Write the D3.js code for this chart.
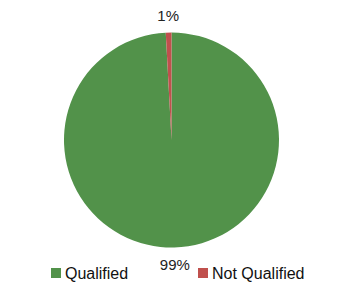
<!DOCTYPE html>
<html><head><meta charset="utf-8">
<script src="https://cdn.jsdelivr.net/npm/d3@7"></script>
<style>body{margin:0;background:#fff}svg{display:block}</style>
</head><body>
<svg id="c" width="341" height="289"></svg>
<script>
const categories = ["Qualified", "Not Qualified"];
const values = [99.15, 0.85];
const labels = ["99%", "1%"];
const colors = ["#52924A", "#C0504D"];

const svg = d3.select("#c");
const cx = 171.5, cy = 140, r = 107.5;
const g = svg.append("g").attr("transform", `translate(${cx},${cy})`);
const pie = d3.pie().sort(null).value(d => d.v);
const data = pie(categories.map((c, i) => ({c, v: values[i], l: labels[i], col: colors[i]})));
const arc = d3.arc().innerRadius(0).outerRadius(r);
g.selectAll("path").data(data).join("path")
  .attr("d", arc).attr("fill", d => d.data.col);
const lr = r + 17;
g.selectAll("text.lbl").data(data).join("text").attr("class", "lbl")
  .attr("x", d => Math.sin((d.startAngle + d.endAngle) / 2) * lr)
  .attr("y", d => -Math.cos((d.startAngle + d.endAngle) / 2) * lr)
  .attr("text-anchor", "middle").attr("dominant-baseline", "central")
  .attr("font-family", "Liberation Sans, Arial, sans-serif").attr("font-size", 15)
  .attr("fill", "#222").text(d => d.data.l);

const legX = [51, 198];
const lg = svg.selectAll("g.leg").data(categories).join("g").attr("class", "leg")
  .attr("transform", (d, i) => `translate(${legX[i]},268)`);
lg.append("rect").attr("width", 10).attr("height", 10).attr("fill", (d, i) => colors[i]);
lg.append("text").attr("x", 14).attr("y", 11).attr("font-family", "Liberation Sans, Arial, sans-serif")
  .attr("font-size", 16).attr("fill", "#111").text(d => d);
</script>
</body></html>
